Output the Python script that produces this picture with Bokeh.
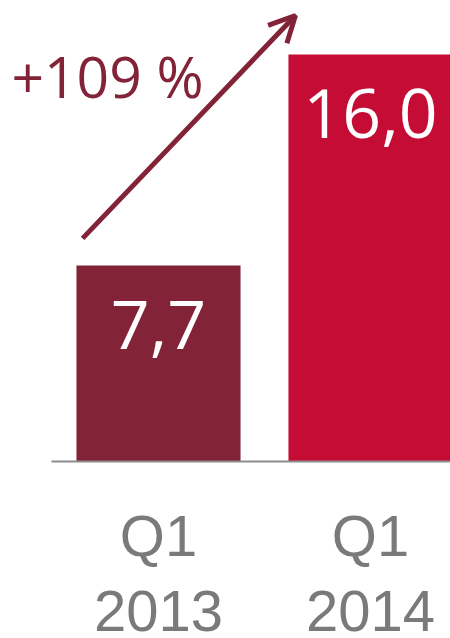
from bokeh.plotting import figure
from bokeh.models import Range1d, Arrow, OpenHead, Label, ColumnDataSource
from bokeh.embed import file_html
from bokeh.resources import INLINE
from bokeh.core.properties import value

quarters = ["Q1", "Q1"]
years = ["2013", "2014"]
values = [7.7, 16.0]
value_labels = ["7,7", "16,0"]
bar_colors = ["#822337", "#C50C34"]
growth_label = "+109 %"

xs = list(range(len(years)))

W, H = 450, 638
p = figure(width=W, height=H, output_backend="svg", toolbar_location=None,
           x_range=Range1d(-0.7453, 1.3774), y_range=Range1d(-6.958, 18.12),
           min_border=0, outline_line_color=None)
p.axis.visible = False
p.grid.visible = False
p.background_fill_color = "white"
p.border_fill_color = "white"

src = ColumnDataSource(dict(x=xs, top=values, color=bar_colors, lab=value_labels,
                            q=quarters, yr=years,
                            ly=[v - 2.32 for v in values]))
p.vbar(x="x", top="top", bottom=0, width=0.774, fill_color="color", line_color=None, source=src)

# baseline
p.segment(x0=[xs[0] - 0.505], x1=[xs[-1] + 0.5], y0=[0], y1=[0], line_color="#8c8c8c", line_width=2)

# value labels
p.text(x="x", y="ly", text="lab", source=src, text_color="white", text_align="center",
       text_baseline="alphabetic", text_font=value("Open Sans"), text_font_size="68px")

# category labels (two lines)
p.text(x="x", y=-2.91, text="q", source=src, text_color="#7a7a7a", text_align="center",
       text_baseline="alphabetic", text_font=value("Liberation Sans"), text_font_size="58px")
p.text(x="x", y=-5.89, text="yr", source=src, text_color="#7a7a7a", text_align="center",
       text_baseline="alphabetic", text_font=value("Liberation Sans"), text_font_size="58px")

# growth arrow
p.add_layout(Arrow(x_start=xs[0] - 0.358, y_start=values[0] + 1.07,
                   x_end=xs[1] - 0.354, y_end=values[1] + 1.53,
                   line_color="#822337", line_width=5,
                   end=OpenHead(size=26, line_color="#822337", line_width=5)))

p.add_layout(Label(x=xs[0] - 0.694, y=15.17, text=growth_label, text_color="#822337",
                   text_font="Open Sans", text_font_size="57px", text_baseline="alphabetic"))

open("out.html", "w").write(file_html(p, INLINE))
